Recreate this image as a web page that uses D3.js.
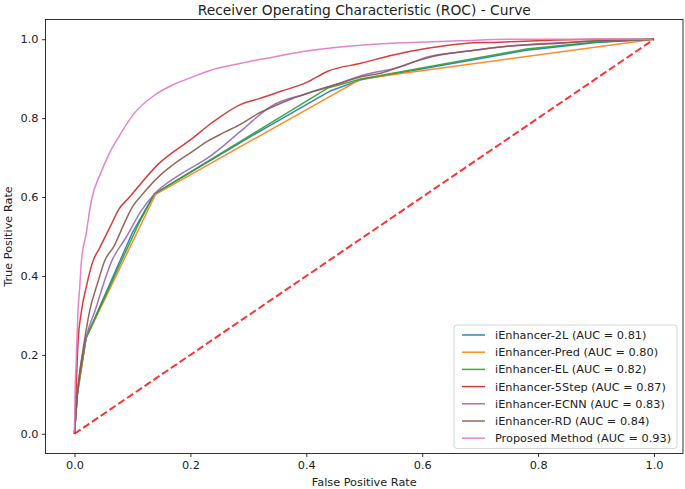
<!DOCTYPE html>
<html>
<head>
<meta charset="utf-8">
<script src="https://cdn.jsdelivr.net/npm/d3@7/dist/d3.min.js"></script>
<style>
  html, body { margin: 0; padding: 0; background: #fff; }
  svg { display: block; font-family: "DejaVu Sans", sans-serif; }
</style>
</head>
<body>
<script>
// ---------- DATA ----------
const modelNames = ["iEnhancer-2L", "iEnhancer-Pred", "iEnhancer-EL", "iEnhancer-5Step", "iEnhancer-ECNN", "iEnhancer-RD", "Proposed Method"];
const aucValues = [0.81, 0.80, 0.82, 0.87, 0.83, 0.84, 0.93];
const xTicks = [0.0, 0.2, 0.4, 0.6, 0.8, 1.0];
const yTicks = [0.0, 0.2, 0.4, 0.6, 0.8, 1.0];

const fpr2L   = [0, 0.005, 0.02, 0.1, 0.138, 0.3, 0.44, 0.494, 0.78, 0.9, 1];
const tpr2L   = [0, 0.1, 0.243, 0.51, 0.608, 0.75, 0.868, 0.897, 0.972, 0.992, 1];

const fprPred = [0, 0.005, 0.02, 0.14, 0.494, 1];
const tprPred = [0, 0.1, 0.243, 0.607, 0.899, 1];

const fprEL   = [0, 0.005, 0.02, 0.081, 0.11, 0.138, 0.437, 0.494, 0.78, 0.9, 1];
const tprEL   = [0, 0.11, 0.243, 0.438, 0.53, 0.608, 0.876, 0.899, 0.975, 0.993, 1];

const fpr5Step = [0, 0.003, 0.006, 0.012, 0.02, 0.032, 0.043, 0.06, 0.077, 0.095, 0.115, 0.145, 0.172, 0.2, 0.236, 0.287, 0.32, 0.356, 0.4, 0.437, 0.494, 0.55, 0.609, 0.678, 0.723, 0.809, 0.9, 1];
const tpr5Step = [0, 0.12, 0.228, 0.31, 0.37, 0.438, 0.47, 0.52, 0.57, 0.6, 0.635, 0.684, 0.716, 0.745, 0.787, 0.835, 0.85, 0.868, 0.89, 0.919, 0.939, 0.96, 0.977, 0.99, 0.992, 0.997, 1, 1];

const fprECNN = [0, 0.005, 0.02, 0.035, 0.065, 0.09, 0.115, 0.138, 0.18, 0.23, 0.287, 0.339, 0.4, 0.46, 0.5, 0.563, 0.609, 0.68, 0.747, 0.85, 1];
const tprECNN = [0, 0.1, 0.243, 0.31, 0.44, 0.5, 0.565, 0.608, 0.655, 0.699, 0.767, 0.83, 0.862, 0.89, 0.91, 0.93, 0.955, 0.97, 0.982, 0.992, 1];

const fprRD   = [0, 0.005, 0.018, 0.026, 0.041, 0.052, 0.068, 0.085, 0.1, 0.115, 0.15, 0.172, 0.2, 0.23, 0.26, 0.287, 0.315, 0.344, 0.373, 0.413, 0.46, 0.494, 0.528, 0.58, 0.62, 0.68, 0.747, 0.838, 0.9, 1];
const tprRD   = [0, 0.1, 0.243, 0.31, 0.387, 0.438, 0.475, 0.53, 0.575, 0.603, 0.658, 0.684, 0.712, 0.742, 0.765, 0.785, 0.81, 0.83, 0.848, 0.868, 0.889, 0.905, 0.914, 0.94, 0.957, 0.97, 0.982, 0.99, 0.996, 1];

const fprProp = [0, 0.001, 0.003, 0.006, 0.009, 0.012, 0.02, 0.029, 0.045, 0.06, 0.077, 0.103, 0.138, 0.172, 0.2, 0.23, 0.287, 0.344, 0.4, 0.494, 0.55, 0.666, 0.75, 1];
const tprProp = [0, 0.1, 0.185, 0.31, 0.37, 0.438, 0.506, 0.59, 0.66, 0.71, 0.754, 0.812, 0.858, 0.886, 0.902, 0.919, 0.939, 0.955, 0.97, 0.985, 0.99, 0.996, 1, 1];

const seriesFpr = [fpr2L, fprPred, fprEL, fpr5Step, fprECNN, fprRD, fprProp];
const seriesTpr = [tpr2L, tprPred, tprEL, tpr5Step, tprECNN, tprRD, tprProp];
const colors = ["#1f77b4", "#ff7f0e", "#2ca02c", "#d62728", "#9467bd", "#8c564b", "#e377c2"];
const smoothSeries = [false, false, false, true, true, true, true];

// ---------- LAYOUT ----------
const W = 685, H = 489;
const plot = { left: 45.5, right: 683, top: 19.5, bottom: 453.5 };
const FS = 11.3;

const svg = d3.select("body").append("svg").attr("width", W).attr("height", H);

const x = d3.scaleLinear().domain([-0.05, 1.05]).range([plot.left, plot.right]);
const y = d3.scaleLinear().domain([-0.05, 1.05]).range([plot.bottom, plot.top]);

svg.append("clipPath").attr("id", "clip").append("rect")
  .attr("x", plot.left).attr("y", plot.top)
  .attr("width", plot.right - plot.left).attr("height", plot.bottom - plot.top);

const g = svg.append("g").attr("clip-path", "url(#clip)");
const lineLinear = d3.line().x(d => x(d[0])).y(d => y(d[1]));
const lineSmooth = d3.line().x(d => x(d[0])).y(d => y(d[1])).curve(d3.curveMonotoneX);

seriesFpr.forEach((fx, i) => {
  const pts = fx.map((v, j) => [v, seriesTpr[i][j]]);
  g.append("path").datum(pts)
    .attr("d", smoothSeries[i] ? lineSmooth : lineLinear)
    .attr("fill", "none")
    .attr("stroke", colors[i])
    .attr("stroke-opacity", 0.9)
    .attr("stroke-width", 1.5)
    .attr("stroke-linejoin", "round");
});

// diagonal
g.append("path").datum([[0, 0], [1, 1]])
  .attr("d", lineLinear)
  .attr("fill", "none")
  .attr("stroke", "#ff0000")
  .attr("stroke-opacity", 0.8)
  .attr("stroke-width", 2)
  .attr("stroke-dasharray", "7.4,3.2");

// axes
const xAxis = d3.axisBottom(x).tickValues(xTicks).tickFormat(d3.format(".1f")).tickSize(3.5).tickPadding(3.5);
const yAxis = d3.axisLeft(y).tickValues(yTicks).tickFormat(d3.format(".1f")).tickSize(3.5).tickPadding(3.5);

const gx = svg.append("g").attr("transform", `translate(0,${plot.bottom})`).call(xAxis);
const gy = svg.append("g").attr("transform", `translate(${plot.left},0)`).call(yAxis);
[gx, gy].forEach(ax => {
  ax.select(".domain").remove();
  ax.selectAll(".tick line").attr("stroke", "#000").attr("stroke-width", 0.8);
  ax.selectAll(".tick text").attr("fill", "#222").style("font-size", FS + "px").style("font-family", "DejaVu Sans");
});

// spines
svg.append("rect")
  .attr("x", plot.left).attr("y", plot.top)
  .attr("width", plot.right - plot.left).attr("height", plot.bottom - plot.top)
  .attr("fill", "none").attr("stroke", "#000").attr("stroke-width", 0.8);

// title & labels
svg.append("text").attr("x", (plot.left + plot.right) / 2).attr("y", 15)
  .attr("text-anchor", "middle").attr("fill", "#222").style("font-size", "13.8px").text("Receiver Operating Characteristic (ROC) - Curve");
svg.append("text").attr("x", (plot.left + plot.right) / 2).attr("y", 486)
  .attr("text-anchor", "middle").attr("fill", "#222").style("font-size", FS + "px").text("False Positive Rate");
svg.append("text").attr("transform", `translate(12,${(plot.top + plot.bottom) / 2}) rotate(-90)`)
  .attr("text-anchor", "middle").attr("fill", "#222").style("font-size", FS + "px").text("True Positive Rate");

// legend
const leg = { x: 454, y: 325, w: 223, h: 123.5 };
svg.append("rect").attr("x", leg.x).attr("y", leg.y).attr("width", leg.w).attr("height", leg.h)
  .attr("rx", 3).attr("fill", "#fff").attr("fill-opacity", 0.8)
  .attr("stroke", "#cccccc").attr("stroke-width", 0.8);
modelNames.forEach((name, i) => {
  const cy = 335 + i * 17.2;
  svg.append("line").attr("x1", 462).attr("x2", 485).attr("y1", cy).attr("y2", cy)
    .attr("stroke", colors[i]).attr("stroke-width", 1.5).attr("stroke-opacity", 0.9);
  svg.append("text").attr("x", 495).attr("y", cy).attr("dy", "0.35em").attr("fill", "#222")
    .style("font-size", FS + "px").text(`${name} (AUC = ${aucValues[i].toFixed(2)})`);
});
</script>
</body>
</html>
